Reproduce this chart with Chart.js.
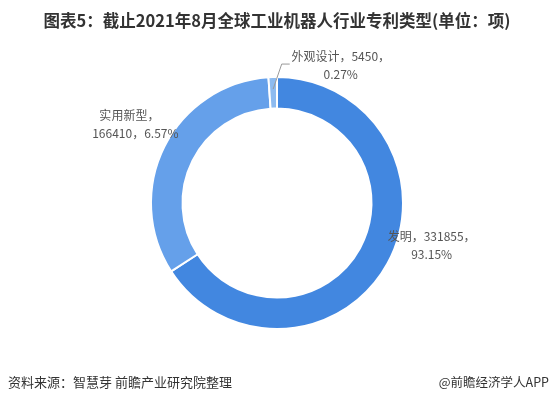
<!DOCTYPE html>
<html>
<head>
<meta charset="utf-8">
<script src="https://cdn.jsdelivr.net/npm/chart.js@4/dist/chart.umd.min.js"></script>
<style>
html,body{margin:0;padding:0;background:#fff;}
#wrap{position:relative;width:554px;height:404px;overflow:hidden;font-family:"Noto Sans CJK SC","Noto Sans",sans-serif;}
#title{position:absolute;left:0;top:8px;width:554px;text-align:center;font-size:16.5px;font-weight:bold;color:#333;}
#src{position:absolute;left:8px;top:372px;font-size:13px;color:#333;}
#app{position:absolute;right:5px;top:372px;font-size:12.5px;color:#333;}
canvas{position:absolute;left:0;top:0;}
</style>
</head>
<body>
<div id="wrap">
<canvas id="chart" width="554" height="404"></canvas>
<div id="title">图表5：截止2021年8月全球工业机器人行业专利类型(单位：项)</div>
<div id="src">资料来源：智慧芽 前瞻产业研究院整理</div>
<div id="app">@前瞻经济学人APP</div>
</div>
<script>
// data
var types=["发明","实用新型","外观设计"]
var counts=[331855,166410,5450]
var shares=["93.15%","6.57%","0.27%"]   // as printed on the chart
var colors=["#4287e0","#65a0ea","#8dbbf0"]

// label placement relative to the arc edge (style only)
var labelOffset=[[44,-18],[-29,-22],[68,-12]]

var labelPlugin={
  id:"pieLabels",
  afterDraw:function(chart){
    var ctx=chart.ctx
    var arcs=chart.getDatasetMeta(0).data
    ctx.save()
    ctx.font='12px "Noto Sans CJK SC", sans-serif'
    ctx.fillStyle="#555"
    ctx.textAlign="center"
    ctx.textBaseline="middle"
    arcs.forEach(function(arc,i){
      var mid=(arc.startAngle+arc.endAngle)/2
      var ax=arc.x+Math.cos(mid)*arc.outerRadius
      var ay=arc.y+Math.sin(mid)*arc.outerRadius
      var lx=ax+labelOffset[i][0]
      var ly=ay+labelOffset[i][1]
      var lines
      if(i==1){
        lines=[types[i]+"，",counts[i]+"，"+shares[i]]
      }else{
        lines=[types[i]+"，"+counts[i]+"，",shares[i]]
      }
      if(i==2){
        // leader line for the thin slice
        var sx=arc.x+Math.cos(mid)*(arc.outerRadius-12)
        var sy=arc.y+Math.sin(mid)*(arc.outerRadius-12)
        ctx.strokeStyle="#999"
        ctx.lineWidth=1
        ctx.beginPath()
        ctx.moveTo(sx,sy)
        ctx.lineTo(ax+9,ay-13)
        ctx.lineTo(ax+17,ay-13)
        ctx.stroke()
      }
      var dx1=(i==1)?-6:0
      ctx.fillText(lines[0],lx+dx1,ly-9)
      ctx.fillText(lines[1],lx,ly+9)
    })
    ctx.restore()
  }
}

var ctx=document.getElementById("chart").getContext("2d")
new Chart(ctx,{
  type:"doughnut",
  data:{
    labels:types,
    datasets:[{data:counts,backgroundColor:colors,borderColor:"#fff",borderWidth:2,hoverOffset:0}]
  },
  options:{
    responsive:false,
    animation:false,
    cutout:"75%",
    layout:{padding:{top:76,bottom:74,left:150,right:150}},
    plugins:{legend:{display:false},tooltip:{enabled:false}}
  },
  plugins:[labelPlugin]
})
</script>
</body>
</html>
